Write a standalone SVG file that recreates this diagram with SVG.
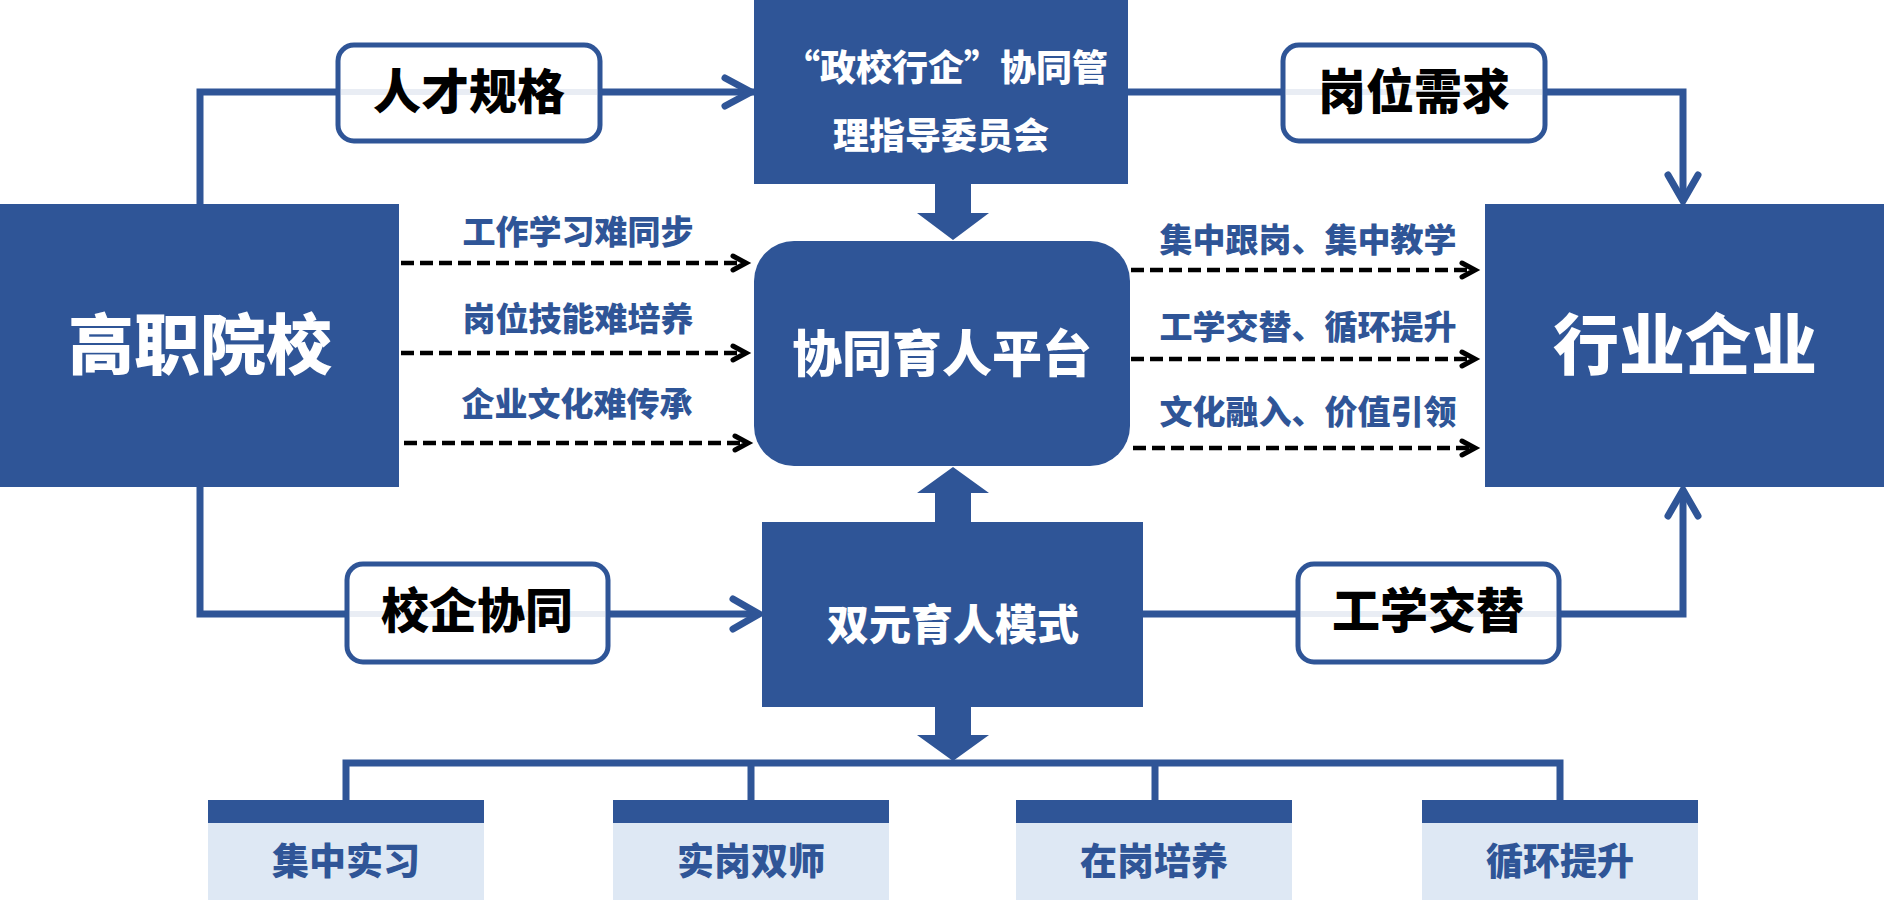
<svg xmlns="http://www.w3.org/2000/svg" width="1884" height="901" viewBox="0 0 1884 901">
<defs>
<style>
.blue{fill:#2F5597}
.t{font-family:"Noto Sans CJK SC","Noto Sans",sans-serif;font-weight:900;text-anchor:middle}
.w{fill:#fff}
.k{fill:#000}
.b{fill:#2F5597}
.lab{fill:#fff;stroke:#2F5597;stroke-width:5}
.band{fill:#E9EDF4}
.ln{fill:none;stroke:#2F5597;stroke-width:7}
.dash{fill:none;stroke:#000;stroke-width:4.5;stroke-dasharray:13 6}
.chev{fill:none;stroke:#000;stroke-width:5;stroke-linecap:round;stroke-linejoin:miter}
.bchev{fill:none;stroke:#2F5597;stroke-width:7;stroke-linecap:round;stroke-linejoin:miter}
.light{fill:#DEE8F4}
</style>
</defs>
<rect width="1884" height="901" fill="#fff"/>

<g id="connectors">
  <path class="ln" d="M200,204 V92 H754"/>
  <path class="bchev" d="M725,78 L751,92 L725,106"/>
  <path class="ln" d="M1128,92 H1683 V200"/>
  <path class="bchev" d="M1668,175 L1683,201 L1698,175"/>
  <path class="ln" d="M200,487 V614 H759"/>
  <path class="bchev" d="M733,599 L759,614 L733,629"/>
  <path class="ln" d="M1143,614 H1683 V491"/>
  <path class="bchev" d="M1668,516 L1683,490 L1698,516"/>
  <path class="blue" d="M935,184 H971 V213 H989 L953,240 L917,213 H935 Z"/>
  <path class="blue" d="M935,522 H971 V493 H989 L953,467 L917,493 H935 Z"/>
  <path class="blue" d="M935,707 H971 V735 H989 L953,761 L917,735 H935 Z"/>
  <path class="ln" stroke-width="6" d="M346,800 V763 H1560 V800 M751,763 V800 M1155,763 V800"/>
  <path class="dash" d="M401,263 H742"/>
  <path class="chev" d="M733,256 L746,263 L733,270"/>
  <path class="dash" d="M401,353 H742"/>
  <path class="chev" d="M733,346 L746,353 L733,360"/>
  <path class="dash" d="M404,443 H744"/>
  <path class="chev" d="M735,436 L748,443 L735,450"/>
  <path class="dash" d="M1131,270 H1471" stroke-width="5.5" stroke-dasharray="12 4"/>
  <path class="chev" d="M1462,263 L1475,270 L1462,277"/>
  <path class="dash" d="M1131,359 H1471" stroke-width="5.5" stroke-dasharray="12 4"/>
  <path class="chev" d="M1462,352 L1475,359 L1462,366"/>
  <path class="dash" d="M1133,448 H1471" stroke-width="5.5" stroke-dasharray="12 4"/>
  <path class="chev" d="M1462,441 L1475,448 L1462,455"/>
</g>

<g id="label-rencai">
  <rect class="lab" x="338" y="45" width="262" height="96" rx="16"/>
  <rect class="band" x="341" y="89" width="256" height="6"/>
  <text class="t k" x="469" y="109" font-size="48">人才规格</text>
</g>
<g id="label-gangwei">
  <rect class="lab" x="1283" y="45" width="262" height="96" rx="16"/>
  <rect class="band" x="1286" y="89" width="256" height="6"/>
  <text class="t k" x="1414" y="109" font-size="48">岗位需求</text>
</g>
<g id="label-xiaoqi">
  <rect class="lab" x="347" y="564" width="261" height="98" rx="16"/>
  <rect class="band" x="350" y="611" width="255" height="6"/>
  <text class="t k" x="477" y="628" font-size="48">校企协同</text>
</g>
<g id="label-gongxue">
  <rect class="lab" x="1298" y="564" width="261" height="98" rx="16"/>
  <rect class="band" x="1301" y="611" width="255" height="6"/>
  <text class="t k" x="1428" y="628" font-size="48">工学交替</text>
</g>

<g id="gaozhi">
  <rect class="blue" x="0" y="204" width="399" height="283"/>
  <text class="t w" x="200" y="369" font-size="66">高职院校</text>
</g>
<g id="hangye">
  <rect class="blue" x="1485" y="204" width="399" height="283"/>
  <text class="t w" x="1685" y="369" font-size="66">行业企业</text>
</g>
<g id="committee">
  <rect class="blue" x="754" y="0" width="374" height="184"/>
  <text class="t w" x="946" y="81" font-size="36">“政校行企”协同管</text>
  <text class="t w" x="941" y="149" font-size="36">理指导委员会</text>
</g>
<g id="platform">
  <rect class="blue" x="754" y="241" width="376" height="225" rx="40"/>
  <text class="t w" x="942" y="372" font-size="50">协同育人平台</text>
</g>
<g id="shuangyuan">
  <rect class="blue" x="762" y="522" width="381" height="185"/>
  <text class="t w" x="953" y="640" font-size="42">双元育人模式</text>
</g>

<g id="labels-left">
  <text class="t b" x="578" y="244" font-size="33">工作学习难同步</text>
  <text class="t b" x="578" y="331" font-size="33">岗位技能难培养</text>
  <text class="t b" x="577" y="416" font-size="33">企业文化难传承</text>
</g>
<g id="labels-right">
  <text class="t b" x="1308" y="252" font-size="33">集中跟岗、集中教学</text>
  <text class="t b" x="1308" y="339" font-size="33">工学交替、循环提升</text>
  <text class="t b" x="1308" y="424" font-size="33">文化融入、价值引领</text>
</g>

<g id="box-jizhong">
  <rect class="light" x="208" y="800" width="276" height="100"/>
  <rect class="blue" x="208" y="800" width="276" height="23"/>
  <text class="t b" x="346" y="875" font-size="37">集中实习</text>
</g>
<g id="box-shigang">
  <rect class="light" x="613" y="800" width="276" height="100"/>
  <rect class="blue" x="613" y="800" width="276" height="23"/>
  <text class="t b" x="751" y="875" font-size="37">实岗双师</text>
</g>
<g id="box-zaigang">
  <rect class="light" x="1016" y="800" width="276" height="100"/>
  <rect class="blue" x="1016" y="800" width="276" height="23"/>
  <text class="t b" x="1154" y="875" font-size="37">在岗培养</text>
</g>
<g id="box-xunhuan">
  <rect class="light" x="1422" y="800" width="276" height="100"/>
  <rect class="blue" x="1422" y="800" width="276" height="23"/>
  <text class="t b" x="1560" y="875" font-size="37">循环提升</text>
</g>
</svg>
